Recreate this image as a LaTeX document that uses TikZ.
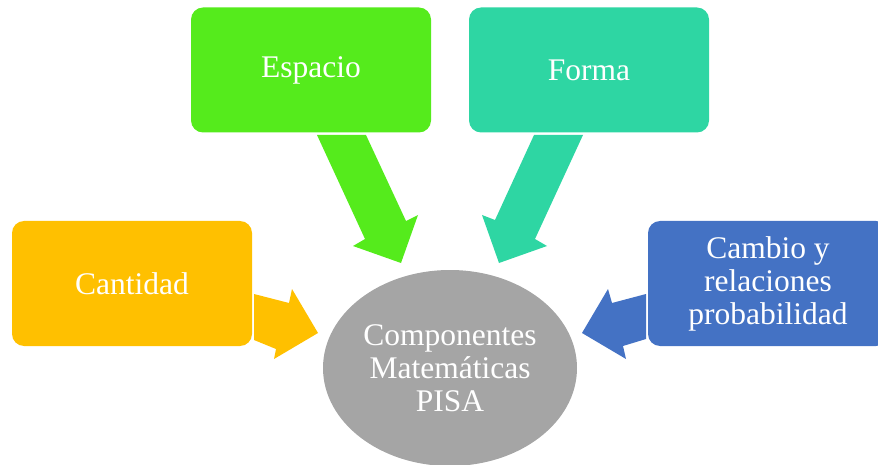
\documentclass[tikz,border=0pt]{standalone}
\usepackage{fontspec}
\setmainfont{Liberation Serif}
\usetikzlibrary{shapes.geometric}
\definecolor{cgreen}{HTML}{55EB1C}
\definecolor{cteal}{HTML}{2ED6A3}
\definecolor{cyellow}{HTML}{FFC000}
\definecolor{cblue}{HTML}{4472C4}
\definecolor{cgray}{HTML}{A5A5A5}
\tikzset{
  boxnode/.style={rounded corners=12pt, minimum width=240pt, minimum height=125pt, inner sep=0pt,
    text=white, align=center, font=\fontsize{31.5}{33}\selectfont},
  blockarrow/.style={draw=none}
}
\begin{document}
\begin{tikzpicture}[x=1pt,y=-1pt]
\useasboundingbox (0,0) rectangle (878,465);
\clip (0,0) rectangle (878,465);
% boxes
\node[boxnode, fill=cgreen] (esp) at (311,70) {Espacio};
\node[boxnode, fill=cteal] (for) at (589,70) {Forma};
\node[boxnode, fill=cyellow] (can) at (132,283.5) {Cantidad};
\node[boxnode, fill=cblue] (cam) at (768,283.5) {Cambio y\\relaciones\\probabilidad};
% ellipse
\node[ellipse, fill=cgray, minimum width=254pt, minimum height=196pt, inner sep=0pt,
  text=white, align=center, font=\fontsize{31.5}{33}\selectfont] (pisa) at (450,368)
  {Componentes\\Matemáticas\\PISA};
% block arrows
\fill[cgreen, blockarrow] (317,135) -- (366,135) -- (406,221) -- (418,215) -- (401,263) -- (353,246) -- (365,239) -- cycle;
\fill[cteal, blockarrow] (534,135) -- (583,135) -- (535,239) -- (547,246) -- (499,263) -- (482,215) -- (495,220) -- cycle;
\fill[cyellow, blockarrow] (254,294) -- (289,303) -- (292,289) -- (318,333) -- (274,359) -- (276,349) -- (254,340) -- cycle;
\fill[cblue, blockarrow] (646,294) -- (612,303) -- (608,289) -- (582,333) -- (626,359) -- (623,346) -- (646,339) -- cycle;
\end{tikzpicture}
\end{document}
